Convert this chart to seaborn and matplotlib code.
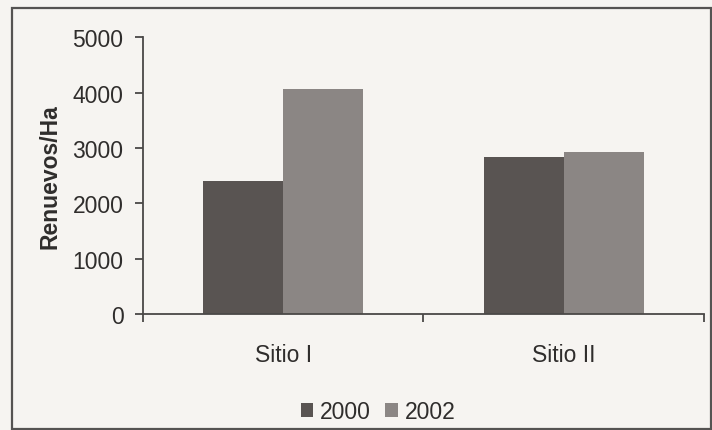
import matplotlib
matplotlib.use("Agg")
import matplotlib.pyplot as plt
import seaborn as sns
import pandas as pd
from matplotlib.patches import Rectangle, Patch

sites = ["Sitio I", "Sitio II"]
years = ["2000", "2002"]
values_2000 = [2400, 2830]
values_2002 = [4060, 2930]
yticks = [0, 1000, 2000, 3000, 4000, 5000]

df = pd.DataFrame({
    "Sitio": sites * 2,
    "Año": [years[0]] * 2 + [years[1]] * 2,
    "Renuevos": values_2000 + values_2002,
})

sns.set_theme(style="white")
plt.rcParams["font.family"] = ["Liberation Sans", "DejaVu Sans"]

bg = "#f6f4f1"
txt = "#2f2d2c"
axc = "#4a4847"
colors = ["#595452", "#8b8684"]
fs = 16.5

fig = plt.figure(figsize=(7.12, 4.31), dpi=100, facecolor=bg)
ax = fig.add_axes([0.2008, 0.2691, 0.7880, 0.6420], facecolor=bg)

sns.barplot(data=df, x="Sitio", y="Renuevos", hue="Año", palette=colors,
            width=0.572, gap=0, saturation=1, edgecolor="none",
            order=sites, hue_order=years, ax=ax, legend=False)

ax.set_xlim(-0.5, 1.5)
ax.set_ylim(0, 5000)
ax.set_yticks(yticks)
ax.set_yticklabels([str(v) for v in yticks], fontsize=fs, color=txt)
ax.set_xticks([-0.5, 0.5, 1.5])
ax.set_xticklabels([])
ax.set_xticks([0, 1], minor=True)
ax.set_xticklabels(sites, minor=True, fontsize=fs, color=txt)
ax.tick_params(axis="x", which="minor", bottom=True, length=0, pad=21)
ax.tick_params(axis="x", which="major", bottom=True, length=6, width=1.3,
               color=axc, direction="out")
ax.tick_params(axis="y", left=True, length=6, width=1.3, color=axc,
               direction="out", pad=8)
ax.set_xlabel("")
ax.set_ylabel("Renuevos/Ha", fontsize=fs, fontweight="bold", color=txt, labelpad=8)

for s in ["top", "right"]:
    ax.spines[s].set_visible(False)
for s in ["left", "bottom"]:
    ax.spines[s].set_color(axc)
    ax.spines[s].set_linewidth(1.3)

handles = [Patch(facecolor=c, edgecolor="none") for c in colors]
fig.legend(handles, years, loc="center", bbox_to_anchor=(378 / 712, 1 - 413 / 431),
           ncol=2, frameon=False, fontsize=fs, handlelength=0.55, handleheight=0.55,
           handletextpad=0.3, columnspacing=0.6, labelcolor=txt)

frame = Rectangle((12 / 712, 1 - 430 / 431), (711 - 12) / 712, (430 - 9) / 431,
                  transform=fig.transFigure, fill=False, edgecolor="#555352",
                  linewidth=1.6)
fig.patches.append(frame)

fig.savefig("out.png", dpi=100, facecolor=bg)
